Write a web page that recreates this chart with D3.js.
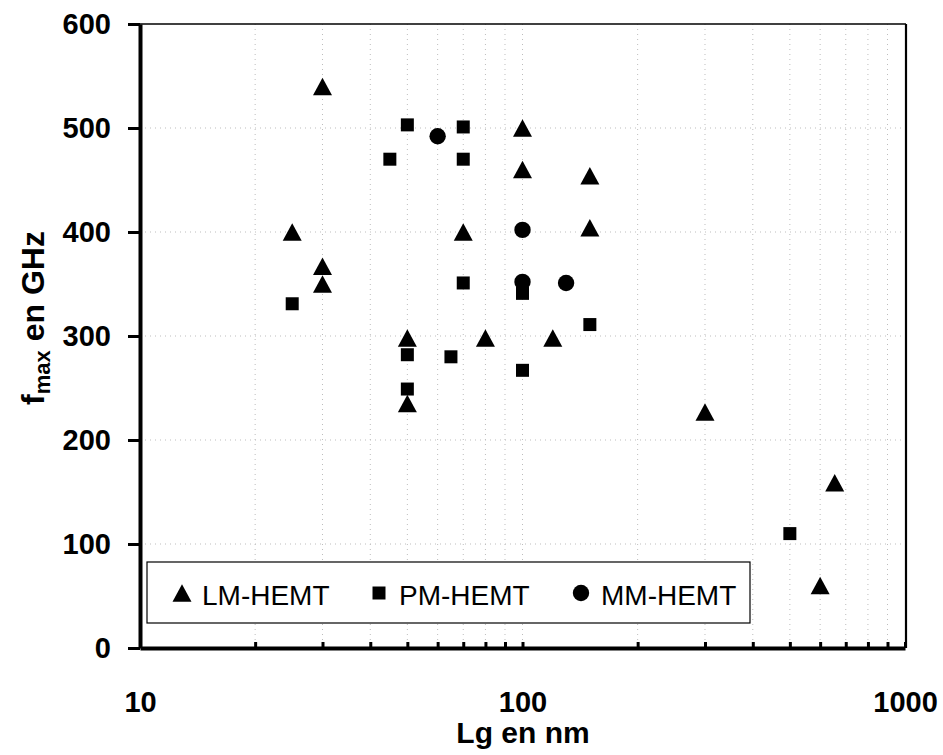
<!DOCTYPE html>
<html>
<head>
<meta charset="utf-8">
<script src="https://cdn.jsdelivr.net/npm/d3@7/dist/d3.min.js"></script>
<style>
  html, body { margin: 0; padding: 0; background: #fff; }
  svg { display: block; }
  text { font-family: Arial, "Liberation Sans", sans-serif; fill: #000; }
</style>
</head>
<body>
<svg id="chart" width="943" height="755"></svg>
<script>
// Gate length (nm) and fmax (GHz) for each HEMT family
const lmLg   = [30, 25, 30, 30, 50, 50, 70, 80, 100, 100, 120, 150, 150, 300, 600, 655];
const lmFmax = [540, 400, 367, 350, 298, 235, 400, 298, 500, 460, 298, 454, 404, 227, 60, 159];

const pmLg   = [50, 45, 70, 70, 25, 50, 50, 70, 100, 150, 65, 100, 500];
const pmFmax = [503, 470, 501, 470, 331, 282, 249, 351, 341, 311, 280, 267, 110];

const mmLg   = [60, 100, 100, 130];
const mmFmax = [492, 402, 352, 351];

const seriesNames = ["LM-HEMT", "PM-HEMT", "MM-HEMT"];

const yTicks = [0, 100, 200, 300, 400, 500, 600];
const xTicks = [10, 20, 30, 40, 50, 60, 70, 80, 90, 100,
                200, 300, 400, 500, 600, 700, 800, 900, 1000];
const xLabels = [10, 100, 1000];

const svg = d3.select("#chart");

const plotL = 140, plotR = 905, plotT = 24, plotB = 648;
const x = d3.scaleLog().domain([10, 1000]).range([plotL, plotR]);
const y = d3.scaleLinear().domain([0, 600]).range([plotB, plotT]);

// Triangle centred on its bounding box (as spreadsheet markers are)
const boxTriangle = {
  draw(ctx, size) {
    const w = Math.sqrt(size), h = w * 0.92;
    ctx.moveTo(0, -h / 2);
    ctx.lineTo(w / 2, h / 2);
    ctx.lineTo(-w / 2, h / 2);
    ctx.closePath();
  }
};
const markerPath = [
  d3.symbol().type(boxTriangle).size(19 * 19)(),
  d3.symbol().type(d3.symbolSquare).size(13 * 13)(),
  d3.symbol().type(d3.symbolCircle).size(Math.PI * 8.2 * 8.2)()
];

// Faint dotted grid
const grid = svg.append("g").attr("stroke", "#bdbdbd").attr("stroke-width", 1)
  .attr("stroke-dasharray", "1,4");
grid.selectAll("line.h").data(yTicks.filter(v => v > 0 && v < 600)).join("line")
  .attr("x1", plotL).attr("x2", plotR)
  .attr("y1", d => y(d)).attr("y2", d => y(d));
grid.selectAll("line.v").data(xTicks.filter(v => v > 10 && v < 1000)).join("line")
  .attr("x1", d => x(d)).attr("x2", d => x(d))
  .attr("y1", plotT).attr("y2", plotB);

// Frame: top and right edges
svg.append("line").attr("x1", plotL).attr("x2", plotR + 1).attr("y1", plotT).attr("y2", plotT)
  .attr("stroke", "#000").attr("stroke-width", 1.6);
svg.append("line").attr("x1", plotR + 1).attr("x2", plotR + 1).attr("y1", plotT).attr("y2", plotB)
  .attr("stroke", "#000").attr("stroke-width", 2.2);

// Y axis
const yAxis = svg.append("g").attr("transform", `translate(${plotL},0)`)
  .call(d3.axisLeft(y).tickValues(yTicks).tickSize(12).tickPadding(17).tickSizeOuter(0));
yAxis.select(".domain").attr("stroke-width", 4);
yAxis.selectAll(".tick line").attr("stroke-width", 3);
yAxis.selectAll(".tick text").attr("font-size", 29).attr("font-weight", "bold")
  .attr("font-family", "Arial, 'Liberation Sans', sans-serif");

// X axis (log), ticks pointing inward
const xAxis = svg.append("g").attr("transform", `translate(0,${plotB})`)
  .call(d3.axisBottom(x).tickValues(xTicks).tickSizeInner(-6).tickSizeOuter(0).tickPadding(43)
    .tickFormat(d => xLabels.includes(d) ? d3.format("d")(d) : ""));
xAxis.select(".domain").attr("stroke-width", 4);
xAxis.selectAll(".tick line").attr("stroke-width", 3);
xAxis.selectAll(".tick text").attr("font-size", 29).attr("font-weight", "bold")
  .attr("font-family", "Arial, 'Liberation Sans', sans-serif");

// Data points
const series = [
  { lg: lmLg, f: lmFmax },
  { lg: pmLg, f: pmFmax },
  { lg: mmLg, f: mmFmax }
];
series.forEach((s, i) => {
  svg.append("g").selectAll("path").data(s.lg.map((v, k) => [v, s.f[k]])).join("path")
    .attr("d", markerPath[i])
    .attr("transform", d => `translate(${x(d[0])},${y(d[1])})`)
    .attr("fill", "#000");
});

// Legend
const legend = svg.append("g");
legend.append("rect").attr("x", 147).attr("y", 562).attr("width", 603).attr("height", 61)
  .attr("fill", "#fff").attr("stroke", "#000").attr("stroke-width", 1.2);
const legendX = [182, 379, 581];
seriesNames.forEach((name, i) => {
  legend.append("path").attr("d", markerPath[i])
    .attr("transform", `translate(${legendX[i]},593)`).attr("fill", "#000");
  legend.append("text").attr("x", legendX[i] + 20).attr("y", 605)
    .attr("font-size", 28).text(name);
});

// Axis titles
svg.append("text").attr("x", 523).attr("y", 743).attr("text-anchor", "middle")
  .attr("font-size", 30).attr("font-weight", "bold").text("Lg en nm");

const yTitle = svg.append("text")
  .attr("transform", "translate(44,318) rotate(-90)")
  .attr("text-anchor", "middle").attr("font-size", 32).attr("font-weight", "bold");
yTitle.append("tspan").text("f");
yTitle.append("tspan").attr("font-size", 22).attr("dy", 6).text("max");
yTitle.append("tspan").attr("dy", -6).text(" en GHz");
</script>
</body>
</html>
